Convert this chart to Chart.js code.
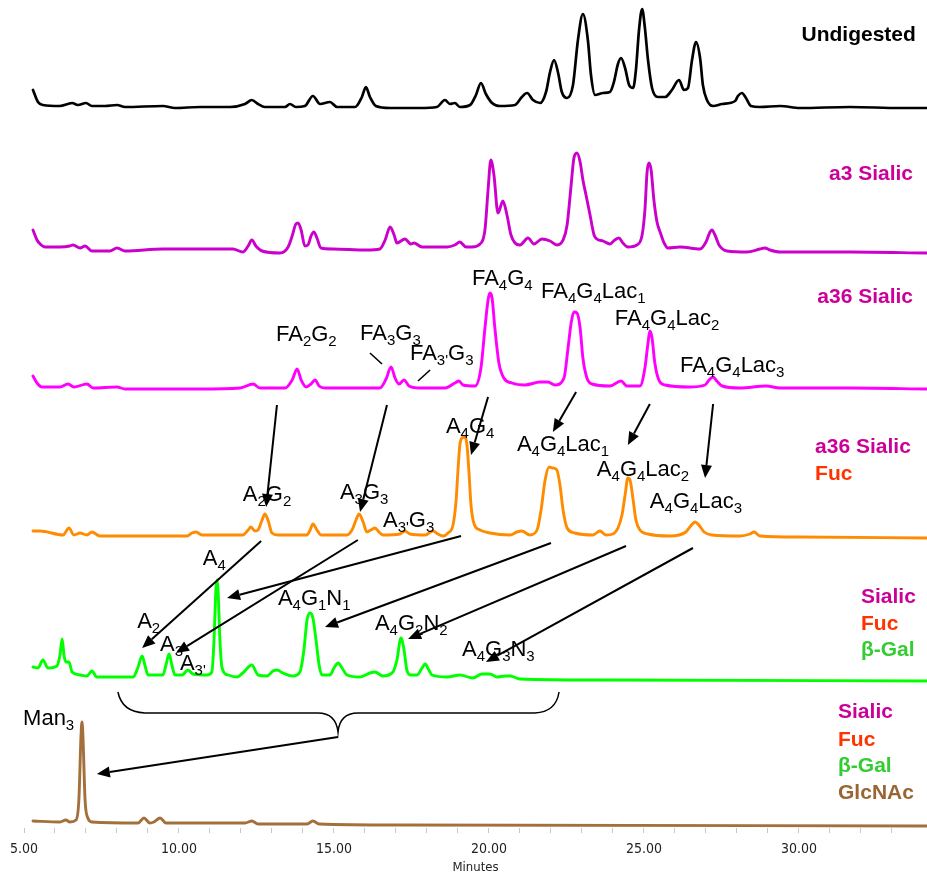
<!DOCTYPE html>
<html><head><meta charset="utf-8">
<script src="https://cdn.jsdelivr.net/npm/chart.js@4"></script>
<style>html,body{margin:0;padding:0;background:#fff;overflow:hidden}canvas{display:block}</style>
</head><body>
<canvas id="c" width="927" height="875"></canvas>
<script>
// ---------- DATA (retention time in minutes, signal in arbitrary units above each trace's baseline) ----------
const xTickValues = [5, 10, 15, 20, 25, 30];
const xTickLabels = ['5.00', '10.00', '15.00', '20.00', '25.00', '30.00'];
const xAxisTitle = 'Minutes';

const undigested = [[5.29,17],[5.45,5],[5.61,2],[6.16,1],[6.42,3],[6.55,4],[6.74,2],[7.00,4],[7.19,1],[7.61,1],[8.00,2],[8.26,0],[9.48,1],[9.87,-1],[10.68,0],[11.65,0],[12.13,3],[12.35,7],[12.55,3],[12.77,0],[13.42,0],[13.58,3],[13.77,0],[14.06,1],[14.32,11],[14.55,3],[14.87,5],[15.10,0],[15.68,0],[15.90,10],[16.03,20],[16.16,10],[16.35,1],[16.81,-1],[17.77,-1],[18.32,0],[18.58,7],[18.74,3],[18.90,4],[19.06,0],[19.39,2],[19.58,12],[19.74,24],[19.90,13],[20.10,4],[20.35,1],[20.84,2],[21.06,10],[21.23,14],[21.42,7],[21.65,4],[21.84,15],[21.97,35],[22.10,47],[22.23,34],[22.35,15],[22.52,9],[22.71,22],[22.87,67],[23.03,93],[23.19,67],[23.29,32],[23.42,12],[23.68,14],[23.90,15],[24.03,25],[24.16,43],[24.26,49],[24.39,39],[24.52,22],[24.65,19],[24.74,37],[24.84,77],[24.94,98],[25.03,79],[25.13,47],[25.26,19],[25.45,10],[25.68,10],[25.90,17],[26.13,27],[26.29,17],[26.42,19],[26.55,47],[26.68,65],[26.81,49],[26.90,22],[27.03,7],[27.23,1],[27.52,3],[27.94,6],[28.03,11],[28.16,14],[28.29,9],[28.45,1],[28.74,0],[29.39,1],[30.03,-1],[31.65,0],[33.26,-1],[34.13,-1]];

const a3Sialic = [[5.29,20],[5.42,10],[5.52,6],[5.68,3],[6.16,3],[6.48,4],[6.58,5],[6.81,2],[6.97,4],[7.19,-1],[7.77,-1],[8.00,2],[8.26,-1],[9.48,1],[10.58,1],[11.74,1],[12.06,-2],[12.23,4],[12.35,10],[12.48,4],[12.68,-1],[13.26,-3],[13.52,3],[13.65,14],[13.77,26],[13.84,27],[13.94,20],[14.06,4],[14.16,5],[14.26,14],[14.35,18],[14.45,12],[14.58,2],[14.97,1],[16.06,0],[16.48,1],[16.65,10],[16.81,23],[16.94,15],[17.03,7],[17.29,11],[17.48,6],[17.58,7],[17.84,3],[18.65,3],[18.90,5],[19.06,8],[19.26,3],[19.45,3],[19.71,6],[19.87,20],[19.97,60],[20.06,90],[20.16,75],[20.29,37],[20.45,49],[20.58,35],[20.71,15],[20.84,7],[21.00,5],[21.26,12],[21.45,6],[21.71,11],[21.97,9],[22.19,5],[22.39,10],[22.52,25],[22.65,65],[22.74,92],[22.84,97],[22.94,88],[23.03,70],[23.13,55],[23.26,35],[23.39,15],[23.48,11],[23.68,9],[23.90,6],[24.06,10],[24.19,12],[24.32,7],[24.48,3],[24.77,5],[24.94,15],[25.03,40],[25.10,78],[25.16,87],[25.23,80],[25.32,50],[25.42,28],[25.52,18],[25.65,7],[25.77,2],[26.16,3],[26.81,1],[27.00,8],[27.13,18],[27.19,20],[27.29,15],[27.42,5],[27.68,-1],[28.32,-2],[28.74,1],[28.90,2],[29.06,0],[29.39,-2],[31.65,-2],[34.13,-3]];

const a36Sialic = [[5.29,12],[5.42,5],[5.58,1],[6.16,1],[6.42,4],[6.61,1],[7.03,4],[7.23,0],[8.00,1],[8.26,-1],[10.68,-1],[11.97,0],[12.39,4],[12.61,0],[13.42,0],[13.65,8],[13.81,19],[13.94,8],[14.10,1],[14.26,4],[14.39,8],[14.52,2],[14.71,0],[16.48,0],[16.68,9],[16.84,21],[16.97,10],[17.10,4],[17.26,8],[17.42,2],[17.77,0],[18.58,0],[18.90,5],[19.03,7],[19.16,3],[19.55,2],[19.74,20],[19.87,60],[19.97,88],[20.03,95],[20.10,90],[20.19,60],[20.32,25],[20.48,10],[20.74,5],[21.16,3],[21.65,6],[21.90,6],[22.13,3],[22.42,10],[22.55,40],[22.65,65],[22.74,76],[22.84,75],[22.94,60],[23.03,30],[23.16,10],[23.32,4],[23.90,2],[24.26,7],[24.45,2],[24.87,2],[25.03,20],[25.13,45],[25.19,57],[25.26,50],[25.35,25],[25.48,8],[25.68,3],[26.48,1],[26.97,3],[27.10,8],[27.23,11],[27.35,7],[27.52,2],[28.10,0],[28.94,2],[29.39,0],[31.65,0],[34.13,-1]];

const a36SialicFuc = [[5.29,4],[5.52,4],[6.26,0],[6.45,7],[6.61,0],[6.81,2],[7.03,0],[7.19,3],[7.45,-1],[10.26,-1],[10.42,2],[10.55,3],[10.74,0],[12.06,0],[12.23,5],[12.32,8],[12.45,4],[12.55,5],[12.68,15],[12.77,21],[12.87,15],[13.00,2],[13.19,0],[14.13,0],[14.23,5],[14.32,11],[14.45,5],[14.58,0],[15.42,0],[15.58,5],[15.71,15],[15.81,21],[15.94,13],[16.06,3],[16.19,5],[16.32,7],[16.45,3],[16.58,0],[17.13,1],[17.29,4],[17.45,1],[17.94,0],[18.19,4],[18.35,1],[18.52,-1],[18.68,2],[18.84,10],[18.94,35],[19.00,65],[19.06,90],[19.13,97],[19.23,98],[19.29,90],[19.35,65],[19.42,30],[19.52,11],[19.71,5],[20.03,2],[20.68,0],[20.90,3],[21.06,4],[21.32,0],[21.55,5],[21.68,25],[21.81,55],[21.94,68],[22.06,67],[22.19,65],[22.29,50],[22.39,25],[22.52,7],[22.77,2],[23.35,0],[23.58,4],[23.77,0],[24.00,1],[24.16,7],[24.29,20],[24.39,40],[24.48,57],[24.55,55],[24.65,35],[24.74,15],[24.87,5],[25.13,1],[25.84,-1],[26.35,3],[26.48,8],[26.65,13],[26.77,10],[26.94,3],[27.19,0],[28.10,-1],[28.42,1],[28.55,3],[28.74,-1],[30.03,-2],[34.13,-3]];

const sialicFucGal = [[5.29,9],[5.45,8],[5.61,16],[5.77,8],[6.06,10],[6.16,21],[6.23,37],[6.29,21],[6.35,14],[6.45,14],[6.55,4],[6.81,1],[7.03,0],[7.19,5],[7.35,-1],[8.52,-1],[8.68,9],[8.81,20],[8.90,11],[9.00,1],[9.48,1],[9.58,11],[9.68,22],[9.77,11],[9.87,1],[10.10,1],[10.29,6],[10.45,2],[10.90,1],[11.06,4],[11.13,36],[11.19,86],[11.23,96],[11.26,86],[11.32,36],[11.39,8],[11.58,1],[11.87,-1],[12.06,3],[12.35,11],[12.55,1],[12.84,0],[13.03,5],[13.16,6],[13.35,3],[13.68,0],[13.90,4],[14.03,26],[14.13,56],[14.23,63],[14.32,58],[14.42,36],[14.52,11],[14.61,1],[14.87,1],[15.00,8],[15.13,13],[15.26,8],[15.42,1],[15.84,-1],[16.16,3],[16.32,4],[16.58,0],[16.90,4],[17.03,16],[17.16,38],[17.26,26],[17.35,6],[17.48,1],[17.68,1],[17.84,8],[17.94,12],[18.06,6],[18.16,1],[18.65,-1],[19.06,1],[19.48,-2],[19.77,2],[20.03,2],[20.26,-1],[20.52,0],[20.68,0],[21.00,-3],[23.58,-4],[34.13,-5]];

const sialicFucGalGlcNAc = [[5.29,2],[6.16,1],[6.35,3],[6.48,1],[6.68,3],[6.77,23],[6.84,88],[6.87,101],[6.90,88],[6.97,23],[7.06,5],[7.19,1],[8.68,0],[8.87,5],[9.06,0],[9.19,1],[9.39,5],[9.58,0],[12.13,0],[12.35,2],[12.55,-1],[14.13,-1],[14.32,2],[14.52,-1],[17.13,-2],[34.13,-3]];

// ---------- LAYOUT / STYLE ----------
const traces = [
  { points: undigested,         base: 721, color: '#000000', width: 2.7 },
  { points: a3Sialic,           base: 578, color: '#CC00CC', width: 2.9 },
  { points: a36Sialic,          base: 440, color: '#FF00FF', width: 2.9 },
  { points: a36SialicFuc,       base: 293, color: '#FF8C00', width: 2.9 },
  { points: sialicFucGal,       base: 152, color: '#00FF00', width: 2.9 },
  { points: sialicFucGalGlcNAc, base: 5,   color: '#A3703C', width: 2.9 }
];

const PINK = '#CC0099', RED = '#FF3300', GRN = '#33CC33', BRN = '#996633';
const enzymeLabels = [
  { text: 'Undigested', color: '#000', t: 33.77, v: 795, align: 'right' },
  { text: 'a3 Sialic',  color: PINK,   t: 33.68, v: 656, align: 'right' },
  { text: 'a36 Sialic', color: PINK,   t: 33.68, v: 533, align: 'right' },
  { text: 'a36 Sialic', color: PINK,   t: 30.52, v: 383, align: 'left' },
  { text: 'Fuc',        color: RED,    t: 30.52, v: 356, align: 'left' },
  { text: 'Sialic',     color: PINK,   t: 32.00, v: 233, align: 'left' },
  { text: 'Fuc',        color: RED,    t: 32.00, v: 206, align: 'left' },
  { text: '\u03B2-Gal', color: GRN,    t: 32.00, v: 180, align: 'left' },
  { text: 'Sialic',     color: PINK,   t: 31.26, v: 118, align: 'left' },
  { text: 'Fuc',        color: RED,    t: 31.26, v: 90,  align: 'left' },
  { text: '\u03B2-Gal', color: GRN,    t: 31.26, v: 64,  align: 'left' },
  { text: 'GlcNAc',     color: BRN,    t: 31.26, v: 37,  align: 'left' }
];

// text in {} is subscript
const peakLabels = [
  { text: 'FA{2}G{2}', t: 13.13, v: 495 },
  { text: 'FA{3}G{3}', t: 15.84, v: 496 },
  { text: "FA{3'}G{3}", t: 17.45, v: 476 },
  { text: 'FA{4}G{4}', t: 19.45, v: 551 },
  { text: 'FA{4}G{4}Lac{1}', t: 21.68, v: 538 },
  { text: 'FA{4}G{4}Lac{2}', t: 24.06, v: 511 },
  { text: 'FA{4}G{4}Lac{3}', t: 26.16, v: 464 },
  { text: 'A{4}G{4}', t: 18.61, v: 403 },
  { text: 'A{4}G{4}Lac{1}', t: 20.90, v: 385 },
  { text: 'A{4}G{4}Lac{2}', t: 23.48, v: 360 },
  { text: 'A{4}G{4}Lac{3}', t: 25.19, v: 328 },
  { text: 'A{2}G{2}', t: 12.06, v: 335 },
  { text: 'A{3}G{3}', t: 15.19, v: 337 },
  { text: "A{3'}G{3}", t: 16.58, v: 309 },
  { text: 'A{4}', t: 10.77, v: 271 },
  { text: 'A{4}G{1}N{1}', t: 13.19, v: 231 },
  { text: 'A{2}', t: 8.65, v: 208 },
  { text: 'A{3}', t: 9.39, v: 185 },
  { text: "A{3'}", t: 10.03, v: 166 },
  { text: 'A{4}G{2}N{2}', t: 16.32, v: 206 },
  { text: 'A{4}G{3}N{3}', t: 19.13, v: 180 },
  { text: 'Man{3}', t: 4.97, v: 111 }
];

const leaderLines = [
  { from: [16.16, 475], to: [16.55, 464] },
  { from: [17.71, 447], to: [18.10, 458] }
];

const arrows = [
  { from: [13.16, 423], to: [12.81, 321] },
  { from: [16.71, 423], to: [15.84, 316] },
  { from: [19.97, 431], to: [19.42, 373] },
  { from: [22.81, 436], to: [22.06, 396] },
  { from: [25.19, 424], to: [24.48, 383] },
  { from: [27.23, 424], to: [26.97, 350] },
  { from: [12.65, 287], to: [8.81, 180] },
  { from: [15.77, 288], to: [9.90, 175] },
  { from: [19.10, 292], to: [11.55, 230] },
  { from: [22.00, 285], to: [14.71, 201] },
  { from: [24.42, 282], to: [17.39, 189] },
  { from: [26.58, 280], to: [19.90, 166] },
  { from: [15.13, 91],  to: [7.35, 54] }
];

// brace path
const brace = [
  ['M', 8.03, 136],
  ['Q', 8.16, 116, 8.90, 115],
  ['L', 14.48, 115],
  ['Q', 15.06, 115, 15.13, 96],
  ['Q', 15.19, 115, 15.77, 115],
  ['L', 21.48, 115],
  ['Q', 22.16, 116, 22.26, 136]
];

const FONT = '"Liberation Sans", Arial, Helvetica, sans-serif';

function drawRich(ctx, text, x, yc) {
  const parts = text.split(/[{}]/);
  const base = yc + 8;
  let cx = x;
  parts.forEach((p, i) => {
    if (!p) return;
    if (i % 2 === 0) { ctx.font = '22px ' + FONT; ctx.fillText(p, cx, base); }
    else { ctx.font = '15px ' + FONT; ctx.fillText(p, cx, base + 5); }
    cx += ctx.measureText(p).width;
  });
}

function drawArrow(ctx, x1, y1, x2, y2) {
  const a = Math.atan2(y2 - y1, x2 - x1), L = 13, W = 5.5;
  const bx = x2 - L * Math.cos(a), by = y2 - L * Math.sin(a);
  ctx.beginPath(); ctx.moveTo(x1, y1); ctx.lineTo(bx, by); ctx.lineWidth = 2; ctx.stroke();
  ctx.beginPath(); ctx.moveTo(x2, y2);
  ctx.lineTo(bx + W * Math.sin(a), by - W * Math.cos(a));
  ctx.lineTo(bx - W * Math.sin(a), by + W * Math.cos(a));
  ctx.closePath(); ctx.fill();
}

const annotationPlugin = {
  id: 'annot',
  afterDatasetsDraw(chart) {
    const ctx = chart.ctx, xs = chart.scales.x, ys = chart.scales.y;
    const X = t => xs.getPixelForValue(t), Y = v => ys.getPixelForValue(v);
    ctx.save();
    ctx.fillStyle = '#000'; ctx.strokeStyle = '#000';
    ctx.textAlign = 'left'; ctx.textBaseline = 'alphabetic';
    peakLabels.forEach(l => drawRich(ctx, l.text, X(l.t), Y(l.v)));
    ctx.lineWidth = 1.6;
    leaderLines.forEach(l => { ctx.beginPath(); ctx.moveTo(X(l.from[0]), Y(l.from[1])); ctx.lineTo(X(l.to[0]), Y(l.to[1])); ctx.stroke(); });
    arrows.forEach(a => drawArrow(ctx, X(a.from[0]), Y(a.from[1]), X(a.to[0]), Y(a.to[1])));
    ctx.beginPath(); ctx.lineWidth = 1.5;
    brace.forEach(s => {
      if (s[0] === 'M') ctx.moveTo(X(s[1]), Y(s[2]));
      else if (s[0] === 'L') ctx.lineTo(X(s[1]), Y(s[2]));
      else ctx.quadraticCurveTo(X(s[1]), Y(s[2]), X(s[3]), Y(s[4]));
    });
    ctx.stroke();
    ctx.font = 'bold 21px ' + FONT;
    enzymeLabels.forEach(l => {
      ctx.fillStyle = l.color; ctx.textAlign = l.align;
      ctx.fillText(l.text, X(l.t), Y(l.v) + 7.5);
    });
    ctx.restore();
  }
};

new Chart(document.getElementById('c'), {
  type: 'line',
  data: {
    datasets: traces.map(tr => ({
      data: tr.points.map(p => ({ x: p[0], y: tr.base + p[1] })),
      borderColor: tr.color, borderWidth: tr.width, pointRadius: 0, fill: false,
      cubicInterpolationMode: 'monotone', borderJoinStyle: 'round', borderCapStyle: 'round'
    }))
  },
  options: {
    responsive: false, animation: false, devicePixelRatio: 1,
    layout: { autoPadding: false, padding: { left: 24, right: 0, top: 0, bottom: 0 } },
    plugins: { legend: { display: false }, tooltip: { enabled: false } },
    scales: {
      x: {
        type: 'linear', min: 5, max: 34.13,
        border: { display: false },
        grid: { drawOnChartArea: false, drawTicks: true, tickLength: 5, color: '#c8c8c8' },
        ticks: {
          stepSize: 1, autoSkip: false, maxRotation: 0, includeBounds: false, padding: 8,
          color: '#222', font: { family: '"Liberation Sans Narrow", "DejaVu Sans Condensed", sans-serif', size: 14 },
          callback: v => { const i = xTickValues.indexOf(v); return i >= 0 ? xTickLabels[i] : ''; }
        },
        afterBuildTicks: s => { s.ticks = s.ticks.filter(t => t.value <= 33); },
        title: { display: true, text: xAxisTitle, color: '#222', padding: 0,
          font: { family: '"Liberation Sans Narrow", "DejaVu Sans Condensed", sans-serif', size: 13 } },
        afterFit: s => { s.height = 47; }
      },
      y: { type: 'linear', display: false, min: 0, max: 828 }
    }
  },
  plugins: [annotationPlugin]
});
</script>
</body></html>
